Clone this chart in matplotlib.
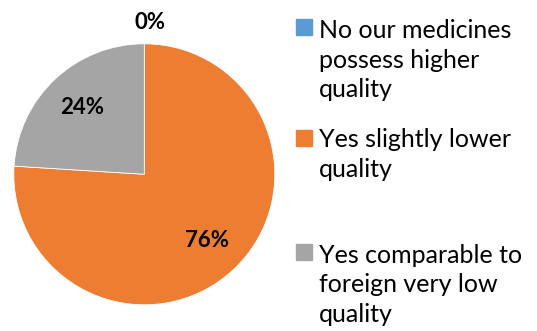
import numpy as np
import matplotlib.pyplot as plt
from matplotlib.patches import Rectangle

plt.rcParams['font.family'] = ['Lato', 'DejaVu Sans']

# answer shares
labels = ['No our medicines\npossess higher\nquality',
          'Yes slightly lower\nquality',
          'Yes comparable to\nforeign very low\nquality']
shares = [0, 76, 24]
colors = ['#5B9BD5', '#ED7D31', '#A5A5A5']

fig = plt.figure(figsize=(5.37, 3.31), dpi=100)
ax = fig.add_axes([13.8 / 537, 26.2 / 331, 261 / 537, 261 / 331])

wedges, _ = ax.pie(shares, colors=colors, startangle=90, counterclock=False,
                   radius=1, wedgeprops=dict(edgecolor='white', linewidth=0.6))
ax.set_xlim(-1, 1)
ax.set_ylim(-1, 1)
ax.set_aspect('equal')

# percentage labels: inside the slice, zero slice sits above the pie
for w, v in zip(wedges, shares):
    mid = np.deg2rad((w.theta1 + w.theta2) / 2)
    r = 1.16 if v == 0 else 0.70
    ax.text(r * np.cos(mid) + (0.045 if v == 0 else 0), r * np.sin(mid), f'{v}%',
            ha='center', va='center', fontsize=16, fontweight='bold', color='black',
            clip_on=False)

# legend drawn by hand to keep the uneven spacing between entries
ys = [27, 138, 252]
for lab, col, y in zip(labels, colors, ys):
    fig.patches.append(Rectangle((296 / 537, 1 - (y + 8) / 331), 16 / 537, 16 / 331,
                                 transform=fig.transFigure, color=col))
    n = lab.count('\n') + 1
    fig.text(319 / 537, 1 - (y + 33 * (n - 1) / 2) / 331, lab, ha='left',
             va='center', fontsize=18, linespacing=1.32, color='black')

fig.savefig('out.png', dpi=100)
